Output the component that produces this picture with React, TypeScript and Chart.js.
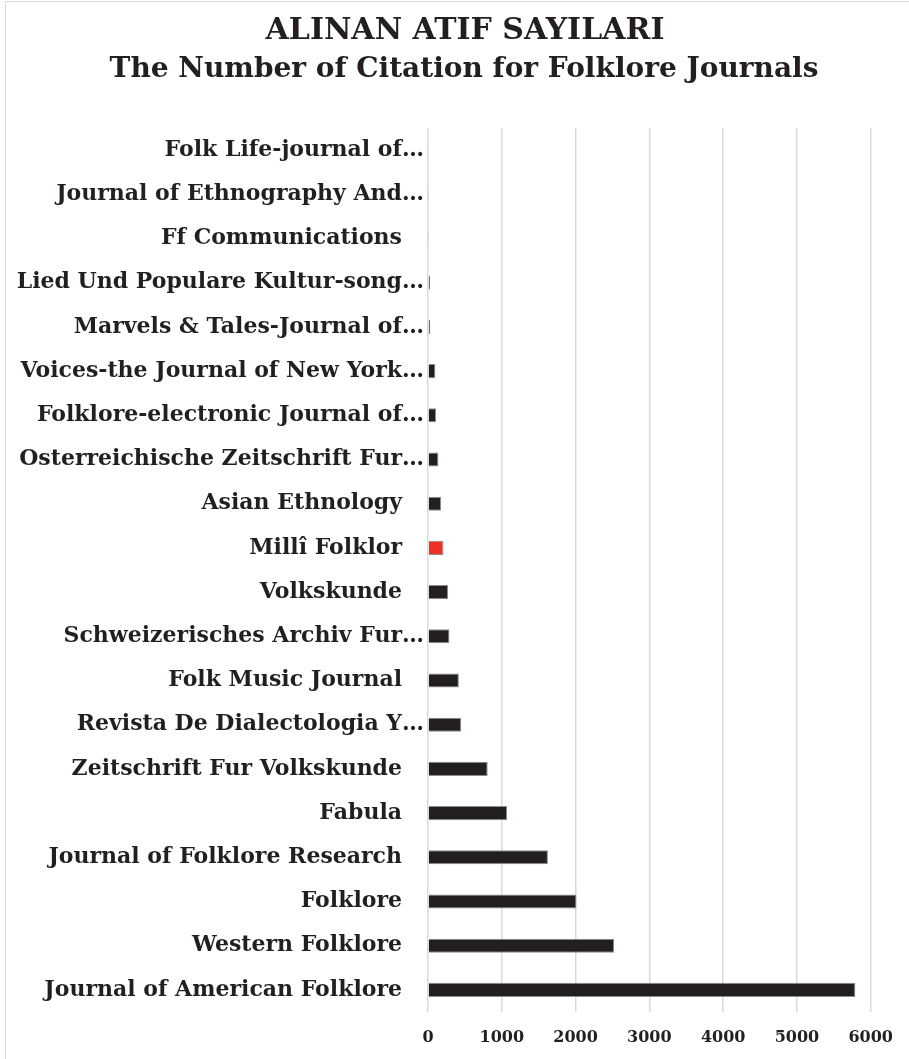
import React, { useEffect, useRef } from "react";
import { Chart, registerables } from "chart.js";

Chart.register(...registerables);

const categories = [
  "Folk Life-journal of…",
  "Journal of Ethnography And…",
  "Ff Communications\u2002\u2002",
  "Lied Und Populare Kultur-song…",
  "Marvels & Tales-Journal of…",
  "Voices-the Journal of New York…",
  "Folklore-electronic Journal of…",
  "Osterreichische Zeitschrift Fur…",
  "Asian Ethnology\u2002\u2002",
  "Millî Folklor\u2002\u2002",
  "Volkskunde\u2002\u2002",
  "Schweizerisches Archiv Fur…",
  "Folk Music Journal\u2002\u2002",
  "Revista De Dialectologia Y…",
  "Zeitschrift Fur Volkskunde\u2002\u2002",
  "Fabula\u2002\u2002",
  "Journal of Folklore Research\u2002\u2002",
  "Folklore\u2002\u2002",
  "Western Folklore\u2002\u2002",
  "Journal of American Folklore\u2002\u2002",
];

const citations = [12, 15, 15, 30, 31, 100, 109, 141, 177, 209, 273, 291, 418, 450, 809, 1072, 1625, 2012, 2522, 5792];

const highlightCategory = "Millî Folklor";

const xTicks = [0, 1000, 2000, 3000, 4000, 5000, 6000];

const titleText = "\u2002\u2002ALINAN ATIF SAYILARI";
const subtitleText = "\u2002\u2002The Number of Citation for Folklore Journals";

const FONT = "'DejaVu Serif', serif";
const TEXT = "#231f20";

export default function App() {
  const ref = useRef<HTMLCanvasElement | null>(null);

  useEffect(() => {
    document.body.style.margin = "0";
    const canvas = ref.current!;
    const frame = {
      id: "frame",
      beforeDraw(chart: any) {
        const c = chart.ctx;
        c.save();
        c.fillStyle = "#ffffff";
        c.fillRect(0, 0, chart.width, chart.height);
        c.strokeStyle = "#d9d9d9";
        c.lineWidth = 1;
        c.strokeRect(5.5, 1.5, chart.width + 20, chart.height + 20);
        c.restore();
      },
    };
    const colors = categories.map((c) => (c.trim().startsWith(highlightCategory) ? "#ee3124" : "#231f20"));
    const chart = new Chart(canvas, {
      type: "bar",
      data: {
        labels: categories,
        datasets: [
          {
            data: citations,
            backgroundColor: colors,
            borderColor: "#8c8c8c",
            borderWidth: 1,
            categoryPercentage: 1,
            barPercentage: 0.32,
          },
        ],
      },
      plugins: [frame],
      options: {
        indexAxis: "y",
        animation: false,
        responsive: false,
        devicePixelRatio: 1,
        layout: { padding: { left: 10, right: 19, top: 10, bottom: 0 } },
        plugins: {
          legend: { display: false },
          tooltip: { enabled: false },
          title: {
            display: true,
            text: titleText,
            color: TEXT,
            font: { family: FONT, size: 30, weight: "bold" },
            padding: { top: 3, bottom: 4 },
          },
          subtitle: {
            display: true,
            text: subtitleText,
            color: TEXT,
            font: { family: FONT, size: 28, weight: "bold" },
            padding: { top: 0, bottom: 41.4 },
          },
        },
        scales: {
          x: {
            min: 0,
            max: 6000,
            afterBuildTicks(scale: any) {
              scale.ticks = xTicks.map((v) => ({ value: v }));
            },
            afterFit(scale: any) {
              scale.height = 47;
            },
            grid: { color: "#d9d9d9", lineWidth: 1.5, drawTicks: false },
            border: { display: false },
            ticks: {
              color: TEXT,
              padding: 16,
              font: { family: FONT, size: 16, weight: "bold" },
              maxRotation: 0,
              callback: (v: any) => String(v),
            },
          },
          y: {
            grid: { display: false },
            border: { display: false },
            afterFit(scale: any) {
              scale.width = 418;
            },
            ticks: {
              color: TEXT,
              padding: -4,
              autoSkip: false,
              font: { family: FONT, size: 22, weight: "bold" },
            },
          },
        },
      },
    } as any);
    return () => chart.destroy();
  }, []);

  return (
    <div style={{ width: 909, height: 1059 }}>
      <canvas ref={ref} width={909} height={1059} style={{ display: "block" }} />
    </div>
  );
}
